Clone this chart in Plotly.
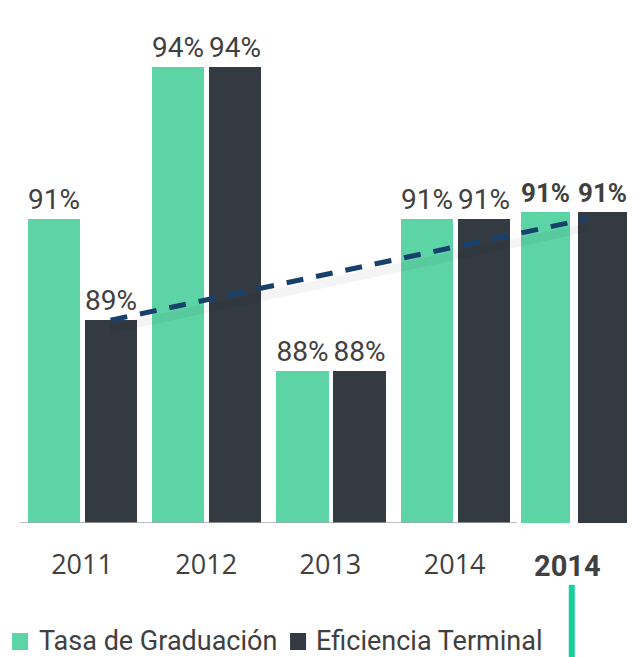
import plotly.graph_objects as go

# datos
years = ["2011", "2012", "2013", "2014"]
highlight_year = "2014"
tasa_graduacion = [91, 94, 88, 91]
eficiencia_terminal = [89, 94, 88, 91]
tasa_highlight = 91
eficiencia_highlight = 91
series_names = ["Tasa de Graduación", "Eficiencia Terminal"]

GREEN = "#5cd4a5"
DARK = "#343a41"
TEXT = "#404040"
LABEL_FONT = "Roboto, Liberation Sans Narrow, sans-serif"

x_pos = list(range(len(years)))
x_hl = len(years)

fig = go.Figure()

fig.add_trace(
    go.Bar(
        x=x_pos,
        y=[v - 85 for v in tasa_graduacion],
        base=85,
        width=0.42,
        offset=-0.435,
        marker=dict(color=GREEN, line=dict(width=0)),
        text=[f"{v}%" for v in tasa_graduacion],
        textposition="outside",
        textfont=dict(family=LABEL_FONT, size=28, color=TEXT),
        cliponaxis=False,
        name=series_names[0],
    )
)
fig.add_trace(
    go.Bar(
        x=x_pos,
        y=[v - 85 for v in eficiencia_terminal],
        base=85,
        width=0.42,
        offset=0.024,
        marker=dict(color=DARK, line=dict(width=0)),
        text=[f"{v}%" for v in eficiencia_terminal],
        textposition="outside",
        textfont=dict(family=LABEL_FONT, size=28, color=TEXT),
        cliponaxis=False,
        name=series_names[1],
    )
)

# grupo resaltado
fig.add_trace(
    go.Bar(
        x=[x_hl],
        y=[tasa_highlight - 85 + 0.14],
        base=85,
        width=0.39,
        offset=-0.465,
        marker=dict(color=GREEN, line=dict(width=0)),
        text=[f"<b>{tasa_highlight}%</b>"],
        textposition="outside",
        textfont=dict(family=LABEL_FONT, size=27, color=TEXT),
        cliponaxis=False,
        name=series_names[0],
    )
)
fig.add_trace(
    go.Bar(
        x=[x_hl],
        y=[eficiencia_highlight - 85 + 0.24],
        base=84.9,
        width=0.40,
        offset=-0.01,
        marker=dict(color=DARK, line=dict(width=0)),
        text=[f"<b>{eficiencia_highlight}%</b>"],
        textposition="outside",
        textfont=dict(family=LABEL_FONT, size=27, color=TEXT),
        cliponaxis=False,
        name=series_names[1],
    )
)

# tendencia
trend_x = [0.23, x_hl + 0.07]
trend_y = [eficiencia_terminal[0], eficiencia_highlight]
fig.add_trace(
    go.Scatter(
        x=trend_x,
        y=[v - 0.17 for v in trend_y],
        mode="lines",
        line=dict(color="rgba(0,0,0,0.045)", width=9),
        hoverinfo="skip",
    )
)
fig.add_trace(
    go.Scatter(
        x=trend_x,
        y=trend_y,
        mode="lines",
        line=dict(color="#17406d", width=5, dash="17px,13px"),
        hoverinfo="skip",
    )
)

# línea base
fig.add_shape(
    type="line", x0=-0.5, x1=len(years) - 0.5, y0=85, y1=85,
    line=dict(color="#a6a6a6", width=1.5),
)
# marcador verde bajo el año resaltado
fig.add_shape(
    type="line", x0=x_hl - 0.057, x1=x_hl - 0.057, y0=-0.122, y1=-0.3,
    xref="x", yref="paper",
    line=dict(color="#14d09c", width=6),
)
fig.add_annotation(
    x=x_hl - 0.09, y=-0.085, xref="x", yref="paper",
    xanchor="center", yanchor="middle",
    text=f"<b>{highlight_year}</b>",
    showarrow=False,
    font=dict(family="Roboto, sans-serif", size=29, color=TEXT),
)

# leyenda (cuadros + texto)
for name, color, sq_x, txt_x in [
    (series_names[0], GREEN, 0.0062, 0.045),
    (series_names[1], DARK, 0.44, 0.477),
]:
    fig.add_shape(
        type="rect", xref="paper", yref="paper",
        x0=sq_x, x1=sq_x + 0.025, y0=-0.2505, y1=-0.217,
        fillcolor=color, line=dict(width=0),
    )
    fig.add_annotation(
        x=txt_x, y=-0.233, xref="paper", yref="paper",
        xanchor="left", yanchor="middle",
        text=name, showarrow=False,
        font=dict(family=LABEL_FONT, size=27, color=TEXT),
    )

fig.update_layout(
    width=641,
    height=657,
    margin=dict(l=0, r=0, t=8, b=142),
    paper_bgcolor="white",
    plot_bgcolor="white",
    barmode="overlay",
    bargap=0,
    showlegend=False,
    xaxis=dict(
        range=[-0.596, 4.565],
        tickvals=x_pos,
        ticktext=years,
        tickfont=dict(family="Open Sans, sans-serif", size=27, color=TEXT),
        ticks="outside",
        tickcolor="rgba(0,0,0,0)",
        ticklen=18,
        showgrid=False,
        zeroline=False,
        showline=False,
    ),
    yaxis=dict(
        range=[85, 95],
        visible=False,
    ),
)

fig.write_html("out.html")
